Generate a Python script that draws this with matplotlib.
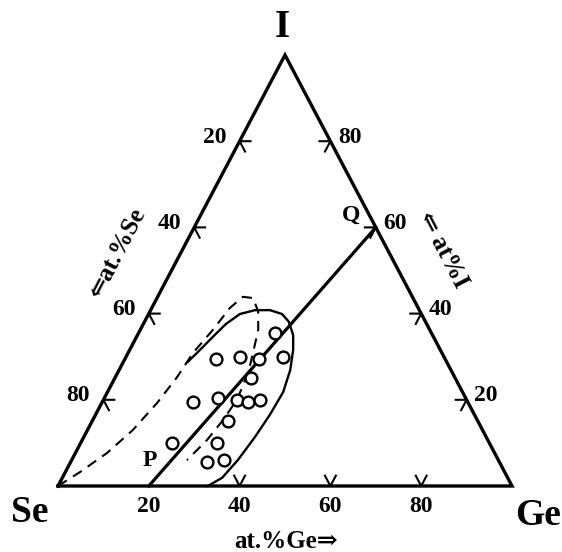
import numpy as np
import matplotlib.pyplot as plt

# ternary diagram Se - Ge - I, compositions in at.%  (Ge, I); Se = 100 - Ge - I
plt.rcParams['font.family'] = ['Liberation Serif', 'DejaVu Serif']
plt.rcParams['font.weight'] = 'bold'

# glass samples (open circles)
sampleGe = [30, 20, 25, 29.5, 34.5, 30, 20, 25, 29.5, 32, 34.5, 30, 30, 30, 33.5, 20]
sampleI = [35.5, 29.5, 30, 29.5, 30, 25, 19.5, 20.5, 20, 19.5, 20, 15, 10, 5.5, 6, 10]

# solid boundary of the glass forming region
solidGe = [14.2, 15.5, 16.8, 18.2, 20.1, 23.0, 26.3, 29.4, 31.8, 34.3, 36.0,
           37.7, 38.7, 38.4, 37.7, 36.6, 35.2, 33.0]
solidI = [28.8, 31.6, 34.6, 37.6, 39.9, 40.8, 40.8, 39.9, 38.1, 35.0, 31.6,
          26.9, 21.8, 16.5, 11.4, 6.0, 1.9, 0.0]

# dashed boundary
dashGe = [0.0, 3.2, 7.0, 10.0, 12.2, 13.6, 14.3, 16.0, 17.2, 18.8, 21.2, 23.9,
          26.0, 27.5, 28.8, 29.4, 28.7, 27.5, 25.4]
dashI = [0.0, 3.2, 7.7, 13.0, 19.3, 25.3, 30.9, 36.2, 41.3, 43.9, 43.6, 40.4,
         36.2, 30.9, 26.2, 20.0, 15.3, 10.7, 6.0]

# join line P-Q
lineGe = [20, 40]
lineI = [0, 60]

tickVals = [20, 40, 60, 80]


def tern(ge, i):
    ge = np.asarray(ge, dtype=float)
    i = np.asarray(i, dtype=float)
    return (ge + 0.5*i)/100., i/100.


fig = plt.figure(figsize=(5.62, 5.52), dpi=100)
ax = fig.add_axes([58/562., 66/552., 454/562., 431/552.])
ax.set_xlim(0, 1)
ax.set_ylim(0, 1)
ax.axis('off')

# triangle
x, y = tern([0, 100, 0, 0], [0, 0, 100, 0])
ax.plot(x, y, color='k', lw=2.4, solid_joinstyle='miter', clip_on=False)

# chevron ticks
arm = 2.4
for v in tickVals:
    if v != 20:   # bottom edge (at.% Ge)
        x, y = tern([v, v, v - arm], [arm, 0, arm])
        ax.plot(x, y, color='k', lw=1.5, clip_on=False)
    # left edge (at.% Se), I = 100 - Se
    iv = 100 - v
    x, y = tern([arm, 0, arm], [iv, iv, iv - arm])
    ax.plot(x, y, color='k', lw=1.5, clip_on=False)
    # right edge (at.% I)
    x, y = tern([100 - v - arm, 100 - v, 100 - v], [v, v, v - arm])
    ax.plot(x, y, color='k', lw=1.5, clip_on=False)

# region boundaries and P-Q line
x, y = tern(solidGe, solidI)
ax.plot(x, y, color='k', lw=1.7, clip_on=False)
x, y = tern(dashGe, dashI)
ax.plot(x, y, color='k', lw=1.5, ls=(0, (5, 3.5)), clip_on=False)
x, y = tern(lineGe, lineI)
ax.plot(x, y, color='k', lw=2.3, clip_on=False)

# samples
x, y = tern(sampleGe, sampleI)
ax.plot(x, y, 'o', ms=8.5, mfc='white', mec='k', mew=1.7, clip_on=False)

# tick labels
for v in tickVals:
    ax.annotate(str(v), tern(v, 0), xytext=(0, -15), textcoords='offset points',
                ha='center', va='center', fontsize=17)
    ax.annotate(str(v), tern(0, 100 - v), xytext=(-18, 3), textcoords='offset points',
                ha='center', va='center', fontsize=17)
    ax.annotate(str(v), tern(100 - v, v), xytext=(14, 3), textcoords='offset points',
                ha='center', va='center', fontsize=17)

# corner labels
ax.annotate('Se', tern(0, 0), xytext=(-20, -19), textcoords='offset points',
            ha='center', va='center', fontsize=27)
ax.annotate('Ge', tern(100, 0), xytext=(19, -21), textcoords='offset points',
            ha='center', va='center', fontsize=27)
ax.annotate('I', tern(0, 100), xytext=(-2, 20), textcoords='offset points',
            ha='center', va='center', fontsize=28)

# P and Q
ax.annotate('P', tern(20, 0), xytext=(1, 18), textcoords='offset points',
            ha='center', va='center', fontsize=17)
ax.annotate('Q', tern(40, 60), xytext=(-18, 9), textcoords='offset points',
            ha='center', va='center', fontsize=17)

# axis titles
fig.text(286/562., 1 - 541/552., 'at.%Ge\u21d2', ha='center', va='center', fontsize=18)
fig.text(117/562., 1 - 253/552., '\u21d0at.%Se', ha='center', va='center',
         fontsize=18, rotation=62.5)
fig.text(443/562., 1 - 250/552., '\u21d0 at%I', ha='center', va='center',
         fontsize=18, rotation=-62.5)

fig.savefig('out.png', dpi=100)
